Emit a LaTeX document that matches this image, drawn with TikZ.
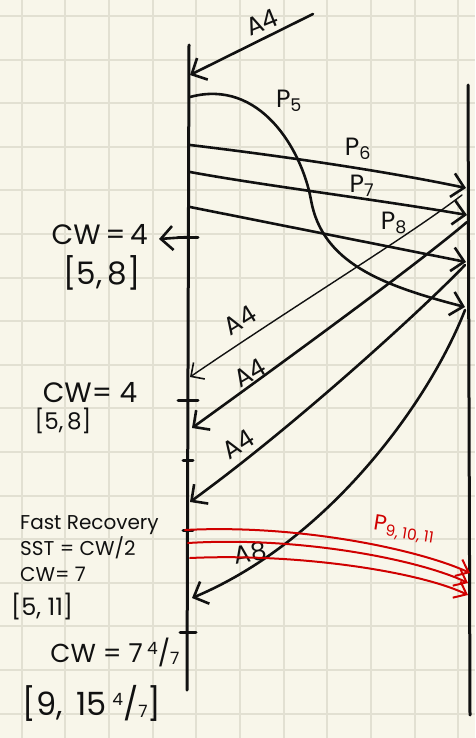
\documentclass[tikz,border=0pt]{standalone}
\usepackage{fontspec}
\setmainfont{Poppins}
\usepackage{xcolor}
\usetikzlibrary{arrows.meta, positioning}
\definecolor{C_PAPER}{HTML}{F8F6EA}
\definecolor{C_GRID} {HTML}{E2E0D2}
\definecolor{C_INK}  {HTML}{111111}
\definecolor{C_RED}  {HTML}{D00000}
\newcommand{\mixfrac}[2]{\raisebox{0.55ex}{\fontsize{17}{17}\selectfont #1}/\raisebox{-0.15ex}{\fontsize{17}{17}\selectfont #2}}
\tikzset{
  %% -- squared paper --
  HS/grid/.style={draw=C_GRID, line width=2pt},
  %% -- sender / receiver lifeline --
  HS/life/.style={draw=C_INK, line width=3pt, line cap=round},
  %% -- small tick on a lifeline --
  HS/tick/.style={draw=C_INK, line width=3pt, line cap=round},
  %% -- segment or ack arrow --
  HS/msg/.style={-{Straight Barb[length=12pt, width=24pt, line width=2.6pt]},
    draw=C_INK, line width=2.6pt, line cap=round},
  %% -- thin ack arrow --
  HS/thin/.style={-{Straight Barb[length=10pt, width=20pt, line width=1.6pt]},
    draw=C_INK, line width=1.4pt, line cap=round},
  %% -- retransmitted segments --
  HS/red/.style={-{Straight Barb[length=11pt, width=18pt, line width=2pt]},
    draw=C_RED, line width=2pt, line cap=round},
  %% -- arrow labels --
  HS/lbl/.style={font=\fontsize{25}{27}\selectfont, text=C_INK, inner sep=1pt},
  %% -- window notes --
  HS/big/.style={font=\fontsize{28}{30}\selectfont, text=C_INK, inner sep=1pt},
  HS/small/.style={font=\fontsize{20}{26}\selectfont, text=C_INK, inner sep=1pt,
    align=left},
}

\begin{document}
\begin{tikzpicture}[x=1pt, y=-1pt]

%% paper and grid
\useasboundingbox (0,0) rectangle (475,738);
\fill[C_PAPER] (0,0) rectangle (475,738);
\foreach \i in {0,...,10}
  \draw[HS/grid] ({21.7+43.65*\i},0) -- ++(0,738);
\foreach \i in {0,...,16}
  \draw[HS/grid] (0,{16+43.6*\i}) -- ++(475,0);

\pgfmathsetmacro{\xL}{188}  %% sender
\pgfmathsetmacro{\xR}{468}  %% receiver

%% lifelines
\coordinate (Ltop) at (\xL+1,45);
\coordinate (Lbot) at (\xL-1,690);
\coordinate (Rtop) at (\xR,85);
\coordinate (Rbot) at (\xR+2,715);
\draw[HS/life] (Ltop) -- (Lbot);
\draw[HS/life] (Rtop) -- (Rbot);

%% points on the lifelines
\coordinate (sA4)  at (313,14);
\coordinate (rA4)  at (\xL+2,75);
\coordinate (s5)   at (\xL+2,97);
\coordinate (s6)   at (\xL+2,145);
\coordinate (s7)   at (\xL+2,172);
\coordinate (s8)   at (\xL+2,207);
\coordinate (r6)   at (\xR-2,188);
\coordinate (r7)   at (\xR-1,215);
\coordinate (r8)   at (\xR-2,262);
\coordinate (r5)   at (\xR-3,307);
\coordinate (a1)   at (\xR-6,195);
\coordinate (a2)   at (\xR-1,222);
\coordinate (a3)   at (\xR-3,265);
\coordinate (a8)   at (\xR-3,310);
\coordinate (b1)   at (\xL+2,377);
\coordinate (b2)   at (\xL+4,428);
\coordinate (b3)   at (\xL+2,502);
\coordinate (b8)   at (\xL+4,598);
\coordinate (t1)   at (\xL,237);
\coordinate (t2)   at (\xL,400);
\coordinate (t3)   at (\xL,460);
\coordinate (t4)   at (\xL,530);
\coordinate (t5)   at (\xL,632);
\coordinate (c1)   at (159,239);
\coordinate (q9)   at (\xL-3,530);
\coordinate (q10)  at (\xL,543);
\coordinate (q11)  at (\xL+2,558);
\coordinate (p9)   at (\xR+2,573);
\coordinate (p10)  at (\xR,583);
\coordinate (p11)  at (\xR,595);

%% ticks
\foreach \t/\w in {t1/10, t2/10, t3/5, t4/5, t5/8}
  \draw[HS/tick] ([xshift=-\w pt]\t) -- ([xshift=\w pt]\t);

%% duplicate ack at the top
\draw[HS/msg] (sA4) -- (rA4);
\node[HS/lbl, rotate=22] (lA4top) at (262,22) {A4};

%% segments P5 .. P8
\draw[HS/msg] (s5) .. controls (260,78) and (302,150) .. (311,200)
                   .. controls (322,262) and (380,285) .. (r5);
\draw[HS/msg] (s6) .. controls (290,157) and (390,172) .. (r6);
\draw[HS/msg] (s7) .. controls (260,185) and (380,200) .. (r7);
\draw[HS/msg] (s8) -- (r8);
\node[HS/lbl] (lP5) at (289,101) {P\textsubscript{5}};
\node[HS/lbl] (lP6) at (358,149) {P\textsubscript{6}};
\node[HS/lbl] (lP7) at (362,186) {P\textsubscript{7}};
\node[HS/lbl] (lP8) at (394,223) {P\textsubscript{8}};

%% window after the first duplicate ack
\draw[HS/msg] (t1) -- (c1);
\node[HS/big, anchor=east] (cw1) at (149,235) {CW\,=\,4};
\node[HS/big, font=\fontsize{31}{33}\selectfont] (win1) at (102,273) {[5,\,8]};

%% duplicate acks
\draw[HS/thin] (a1) .. controls (410,235) and (300,302) .. (b1);
\draw[HS/msg]  (a2) .. controls (420,262) and (300,350) .. (b2);
\draw[HS/msg]  (a3) .. controls (430,302) and (300,422) .. (b3);
\node[HS/lbl, rotate=32] (lA4a) at (240,320) {A4};
\node[HS/lbl, rotate=30] (lA4b) at (250,373) {A4};
\node[HS/lbl, rotate=33] (lA4c) at (238,444) {A4};

\node[HS/big] (cw2) at (90,393) {CW= 4};
\node[HS/small, font=\fontsize{23}{25}\selectfont] (win2) at (63,421) {[5,\,8]};

%% new ack
\draw[HS/msg] (a8) .. controls (430,400) and (330,540) .. (b8);
\node[HS/lbl, rotate=10] (lA8) at (250,553) {A8};

%% fast recovery: retransmitted segments
\draw[HS/red] (q9)  .. controls (300,524) and (420,550) .. (p9);
\draw[HS/red] (q10) .. controls (300,536) and (420,560) .. (p10);
\draw[HS/red] (q11) .. controls (300,553) and (420,572) .. (p11);
\node[HS/lbl, font=\fontsize{22}{24}\selectfont, text=C_RED, rotate=-9]
  (lP9) at (404,530) {P\textsubscript{9, 10, 11}};

\node[HS/small, anchor=west] (fr) at (19,549)
  {Fast Recovery\\SST = CW/2\\CW= 7};
\node[HS/big, font=\fontsize{24}{26}\selectfont, anchor=west] (win3) at (10,607) {[5, 11]};

%% window after the new ack
\node[HS/big, font=\fontsize{26}{28}\selectfont] (cw3) at (115,652) {CW = 7\,\mixfrac{4}{7}};
\node[HS/big, font=\fontsize{32}{34}\selectfont] (win4) at (92,703)
  {[9, \,15\,\mixfrac{4}{7}]};

\end{tikzpicture}
\end{document}
